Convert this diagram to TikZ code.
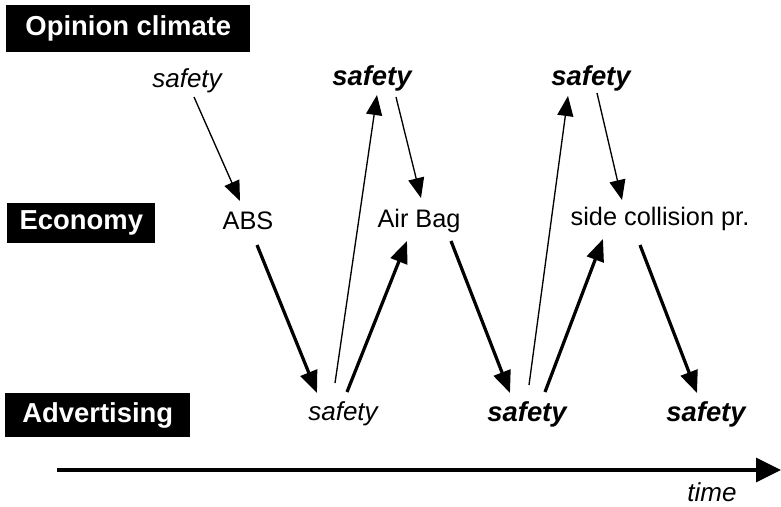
\documentclass[tikz,border=0pt]{standalone}
\usepackage{fontspec}
\setmainfont{Liberation Sans}
\usetikzlibrary{arrows.meta}

\begin{document}
\begin{tikzpicture}[x=0.025cm, y=-0.025cm,
    every node/.style={font=\fontsize{18}{20}\selectfont, inner sep=0pt},
    lbl/.style={fill=black, text=white, font=\fontsize{19.5}{22}\selectfont\bfseries, anchor=west},
    word/.style={font=\fontsize{18.5}{20}\selectfont\itshape},
    bword/.style={font=\fontsize{19.5}{22}\selectfont\bfseries\itshape},
    thinarr/.style={line width=0.95pt, -{Triangle[length=5mm, width=4mm]}},
    thickarr/.style={line width=2.3pt, -{Triangle[length=5.5mm, width=4.4mm]}}]
    \useasboundingbox (0,0) rectangle (781,506);
    \node[lbl, minimum width=6.1cm, minimum height=1.175cm] (opinion) at (6,28.5) {Opinion climate};
    \node[lbl, minimum width=3.7cm, minimum height=1cm] (economy) at (7,223) {Economy};
    \node[lbl, minimum width=4.625cm, minimum height=1.1cm] (advert) at (5,415) {Advertising};
    \node[word] (t1) at (187,81) {safety};
    \node[bword] (t2) at (372,78) {safety};
    \node[bword] (t3) at (591,78) {safety};
    \node (abs) at (248,221) {ABS};
    \node (bag) at (419,221) {Air Bag};
    \node (side) at (660,219) {side collision pr.};
    \node[word] (b1) at (343,414) {safety};
    \node[bword] (b2) at (527,414) {safety};
    \node[bword] (b3) at (706,414) {safety};
    \node[word] (time) at (712,492) {time};
    \draw[thinarr] ([shift={(7,16)}]t1.center) -- ([shift={(-8,-20)}]abs.center);
    \draw[thinarr] ([shift={(-8,-31)}]b1.center) -- ([shift={(5,17)}]t2.center);
    \draw[thinarr] ([shift={(24,19)}]t2.center) -- ([shift={(2,-23)}]bag.center);
    \draw[thinarr] ([shift={(2,-29)}]b2.center) -- ([shift={(-23,18)}]t3.center);
    \draw[thinarr] ([shift={(6,15)}]t3.center) -- ([shift={(-38,-19)}]side.center);
    \draw[thickarr] ([shift={(9,24)}]abs.center) -- ([shift={(-26,-21)}]b1.center);
    \draw[thickarr] ([shift={(4,-22)}]b1.center) -- ([shift={(-12,20)}]bag.center);
    \draw[thickarr] ([shift={(32,20)}]bag.center) -- ([shift={(-17,-21)}]b2.center);
    \draw[thickarr] ([shift={(18,-22)}]b2.center) -- ([shift={(-57,20)}]side.center);
    \draw[thickarr] ([shift={(-20,26)}]side.center) -- ([shift={(-9,-21)}]b3.center);
    \coordinate (start) at (57,470);
    \coordinate (stop) at (781,470);
    \draw[line width=2.2pt, -{Triangle[length=6.25mm, width=6mm]}] (start) -- (stop);
\end{tikzpicture}
\end{document}
